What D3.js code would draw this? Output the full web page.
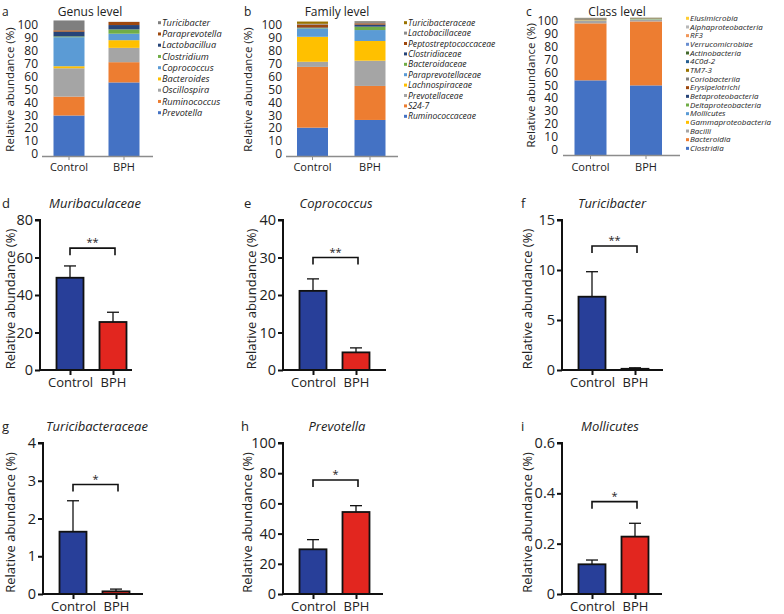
<!DOCTYPE html>
<html><head><meta charset="utf-8">
<script src="https://cdn.jsdelivr.net/npm/d3@7"></script>
<style>body{margin:0;background:#fff;} svg{display:block;font-family:"Open Sans",sans-serif;}</style>
</head><body><svg id="c" width="784" height="614"></svg>
<script>
// ---------- DATA ----------
const groups = ["Control", "BPH"];
const stackTicks = [0,10,20,30,40,50,60,70,80,90,100];

const genusNames = ["Prevotella","Ruminococcus","Oscillospira","Bacteroides","Coprococcus","Clostridium","Lactobacillua","Paraprevotella","Turicibacter"];
const genusControl = [30, 14, 21, 1.5, 21.5, 0.6, 3.5, 1, 7.3];
const genusBPH = [54.5, 15, 10.6, 5.7, 4.8, 3.2, 3.2, 2.3, 0.1];

const familyNames = ["Ruminococcaceae","S24-7","Prevotellaceae","Lachnospiraceae","Paraprevotellaceae","Bacteroidaceae","Clostridiaceae","Peptostreptococcaceae","Lactobacillaceae","Turicibacteraceae"];
const familyControl = [21, 45, 3.8, 18.5, 6.2, 0.3, 0.4, 2.2, 0.5, 1.7];
const familyBPH = [26.7, 25.2, 18.7, 14.6, 8.1, 2.5, 1.5, 1.0, 1.6, 0.07];

const classNames = ["Clostridia","Bacteroidia","Bacilli","Gammaproteobacteria","Mollicutes","Deltaproteobacteria","Betaproteobacteria","Erysipelotrichi","Coriobacteriia","TM7-3","4C0d-2","Actinobacteria","Verrucomicrobiae","RF3","Alphaproteobacteria","Elusimicrobia"];
const classControl = [54.5, 41.6, 2.2, 0.2, 0.12, 0.2, 0.2, 0.3, 0.5, 0.1, 0.05, 0.05, 0.05, 0.05, 0.05, 0.02];
const classBPH = [50.8, 46.7, 1.2, 0.15, 0.23, 0.5, 0.1, 0.2, 0.1, 0.05, 0.05, 0.05, 0.05, 0.05, 0.1, 0.05];

const stackPalette = ["#4472C4","#ED7D31","#A5A5A5","#FFC000","#5B9BD5","#70AD47","#264478","#9E480E","#7f7f7f","#997300","#255E91","#43682B","#698ED0","#F1975A","#B7B7B7","#FFCD33"];
const familyPalette = ["#4472C4","#ED7D31","#A5A5A5","#FFC000","#5B9BD5","#70AD47","#264478","#9E480E","#8c8c8c","#997300"];

const taxa = ["Muribaculaceae","Coprococcus","Turicibacter","Turicibacteraceae","Prevotella","Mollicutes"];
const meanControl = [49.2, 21.1, 7.33, 1.65, 29.6, 0.118];
const meanBPH = [25.6, 4.7, 0.12, 0.07, 54.3, 0.228];
const semControl = [6.3, 3.2, 2.5, 0.82, 6.4, 0.017];
const semBPH = [5.2, 1.2, 0.1, 0.06, 4.2, 0.053];
const yMax = [80, 40, 15, 4, 100, 0.6];
const yStep = [20, 10, 5, 1, 20, 0.2];
const signif = ["**","**","**","*","*","*"];
const bracketLevel = [65, 30, 12.4, 2.9, 75.5, 0.367];
const groupColors = ["#283f99", "#e2261f"];

// ---------- DRAW ----------
const svg = d3.select("#c");
const txt = "#222";

function stackPanel(cfg) {
  const {names, ctrl, bph, letter, title, letterX, titleX, yTitleX, labelRight, lineX, centers, barW, yBar, yLab, legX, legY0, legDy, legFont, palette} = cfg;
  const rows = groups.map((g, gi) => {
    const r = {group: g};
    names.forEach((n, i) => r[n] = (gi === 0 ? ctrl : bph)[i]);
    return r;
  });
  const series = d3.stack().keys(names)(rows);
  const y = d3.scaleLinear().domain([0, 100]).range(yBar);
  const yl = d3.scaleLinear().domain([0, 100]).range(yLab);
  const x = d3.scalePoint().domain(groups).range(centers);
  const g = svg.append("g");
  g.selectAll("g.s").data(series).join("g").attr("fill", (d, i) => palette[i])
    .selectAll("rect").data(d => d).join("rect")
    .attr("x", d => x(d.data.group) - barW / 2).attr("width", barW)
    .attr("y", d => y(d[1])).attr("height", d => Math.max(0, y(d[0]) - y(d[1])));
  g.append("line").attr("x1", lineX[0]).attr("x2", lineX[1]).attr("y1", yBar[0] + 0.5).attr("y2", yBar[0] + 0.5)
    .attr("stroke", "#8c8c8c").attr("stroke-width", 1.5);
  groups.forEach(k => {
    g.append("line").attr("x1", x(k)).attr("x2", x(k)).attr("y1", yBar[0] + 0.5).attr("y2", yBar[0] + 4)
      .attr("stroke", "#8c8c8c").attr("stroke-width", 1);
    g.append("text").attr("x", x(k)).attr("y", 171).attr("text-anchor", "middle")
      .attr("font-size", 11).attr("fill", txt).text(k);
  });
  g.selectAll("text.t").data(stackTicks).join("text").attr("class", "t")
    .attr("x", labelRight).attr("y", d => yl(d)).attr("dy", "0.35em").attr("text-anchor", "end")
    .attr("font-size", 12).attr("fill", txt).text(d => d);
  g.append("text").attr("x", letterX).attr("y", 16).attr("font-size", 12).attr("fill", txt).text(letter);
  g.append("text").attr("x", titleX).attr("y", 16).attr("text-anchor", "middle").attr("font-size", 12).attr("fill", txt).text(title);
  g.append("text").attr("transform", `translate(${yTitleX},${(yLab[0] + yLab[1]) / 2}) rotate(-90)`)
    .attr("text-anchor", "middle").attr("font-size", 11.5).attr("fill", txt).text("Relative abundance (%)");
  const legItems = names.map((n, i) => ({n, c: palette[i]})).reverse();
  const lg = g.append("g");
  legItems.forEach((d, i) => {
    const yy = legY0 + i * legDy;
    lg.append("rect").attr("x", legX).attr("y", yy - 1.5).attr("width", 3).attr("height", 3).attr("fill", d.c);
    lg.append("text").attr("x", legX + 4).attr("y", yy).attr("dy", "0.35em").attr("font-size", legFont)
      .attr("font-style", "italic").attr("fill", txt).text(d.n);
  });
}

stackPanel({names: genusNames, ctrl: genusControl, bph: genusBPH, letter: "a", title: "Genus level",
  letterX: 2, titleX: 90, yTitleX: 14, labelRight: 38, lineX: [42, 153], centers: [69, 124], barW: 31,
  yBar: [156, 21], yLab: [154, 25], legX: 158, legY0: 22.7, legDy: 11.25, legFont: 9.2, palette: stackPalette});
stackPanel({names: familyNames, ctrl: familyControl, bph: familyBPH, letter: "b", title: "Family level",
  letterX: 244, titleX: 337, yTitleX: 252, labelRight: 282, lineX: [286, 398], centers: [312.5, 370], barW: 31,
  yBar: [156, 21], yLab: [154, 25], legX: 404, legY0: 22.7, legDy: 10.4, legFont: 8.6, palette: familyPalette});
stackPanel({names: classNames, ctrl: classControl, bph: classBPH, letter: "c", title: "Class level",
  letterX: 526, titleX: 617, yTitleX: 535, labelRight: 558, lineX: [563, 680], centers: [590.5, 646], barW: 32,
  yBar: [155, 18], yLab: [150, 20.7], legX: 686, legY0: 18.3, legDy: 8.67, legFont: 8, palette: stackPalette});

// ---------- bottom bar panels ----------
const layout = [
  {ax: 40, top: 220, bot: 370, len: 92, letterX: 2, titleX: 95, yTitleX: 15},
  {ax: 283, top: 220, bot: 370, len: 103, letterX: 244, titleX: 336, yTitleX: 256},
  {ax: 562, top: 220, bot: 370, len: 101, letterX: 521, titleX: 612, yTitleX: 532},
  {ax: 43, top: 443, bot: 594, len: 100, letterX: 2, titleX: 97, yTitleX: 15},
  {ax: 283, top: 443, bot: 594, len: 100, letterX: 241, titleX: 337, yTitleX: 252},
  {ax: 562, top: 443, bot: 594, len: 100, letterX: 521, titleX: 610, yTitleX: 532}
];
const letters = ["d","e","f","g","h","i"];

taxa.forEach((name, k) => {
  const L = layout[k];
  const g = svg.append("g");
  const y = d3.scaleLinear().domain([0, yMax[k]]).range([L.bot, L.top]);
  const x = d3.scalePoint().domain(groups).range([L.ax + 30, L.ax + 73]);
  const barW = 27;
  const means = [meanControl[k], meanBPH[k]];
  const sems = [semControl[k], semBPH[k]];
  const data = groups.map((gname, i) => ({g: gname, m: means[i], s: sems[i], c: groupColors[i]}));
  data.forEach(d => {
    g.append("line").attr("x1", x(d.g)).attr("x2", x(d.g)).attr("y1", y(d.m)).attr("y2", y(d.m + d.s)).attr("stroke", "#111").attr("stroke-width", 1.3);
    g.append("line").attr("x1", x(d.g) - 6).attr("x2", x(d.g) + 6).attr("y1", y(d.m + d.s)).attr("y2", y(d.m + d.s)).attr("stroke", "#111").attr("stroke-width", 1.3);
  });
  g.selectAll("rect").data(data).join("rect")
    .attr("x", d => x(d.g) - barW / 2).attr("width", barW)
    .attr("y", d => y(d.m)).attr("height", d => y(0) - y(d.m))
    .attr("fill", d => d.c).attr("stroke", "#111").attr("stroke-width", 1.8);
  const yAxis = d3.axisLeft(y).tickValues(d3.range(0, yMax[k] + yStep[k] / 2, yStep[k])).tickSize(5).tickPadding(2)
    .tickFormat(d => d3.format("~g")(+d.toFixed(2)));
  const ya = g.append("g").attr("transform", `translate(${L.ax},0)`).call(yAxis);
  ya.select(".domain").attr("stroke", "#111").attr("stroke-width", 2).attr("d", `M-5,${L.top}H0V${L.bot}`);
  ya.selectAll(".tick line").attr("stroke", "#111").attr("stroke-width", 2);
  ya.selectAll(".tick text").attr("font-size", 14.5).attr("fill", txt).attr("font-family", "Open Sans");
  const xAxis = d3.axisBottom(x).tickSize(5).tickPadding(3);
  const xa = g.append("g").attr("transform", `translate(0,${L.bot})`).call(xAxis);
  xa.select(".domain").attr("stroke", "#111").attr("stroke-width", 2).attr("d", `M${L.ax},0H${L.ax + L.len}`);
  xa.selectAll(".tick line").attr("stroke", "#111").attr("stroke-width", 2);
  xa.selectAll(".tick text").attr("font-size", 13).attr("fill", txt).attr("font-family", "Open Sans");
  const by = y(bracketLevel[k]);
  const x1 = x("Control"), x2 = x("BPH") + 2;
  g.append("path").attr("d", `M${x1},${by + 7}V${by}H${x2}V${by + 7}`).attr("fill", "none").attr("stroke", "#111").attr("stroke-width", 1.6);
  g.append("text").attr("x", (x1 + x2) / 2).attr("y", by - 2).attr("text-anchor", "middle").attr("font-size", 11).attr("fill", txt).text(signif[k]);
  g.append("text").attr("x", L.letterX).attr("y", L.top - 12).attr("font-size", 13).attr("fill", txt).text(letters[k]);
  g.append("text").attr("x", L.titleX).attr("y", L.top - 12).attr("text-anchor", "middle").attr("font-size", 13)
    .attr("font-style", "italic").attr("fill", txt).text(name);
  g.append("text").attr("transform", `translate(${L.yTitleX},${(L.top + L.bot) / 2 + 4}) rotate(-90)`)
    .attr("text-anchor", "middle").attr("font-size", 13).attr("fill", txt).text("Relative abundance (%)");
});
</script></body></html>
